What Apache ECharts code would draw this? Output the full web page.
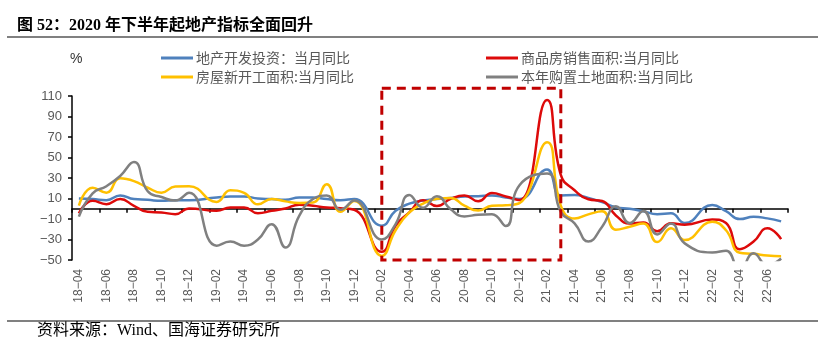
<!DOCTYPE html>
<html>
<head>
<meta charset="utf-8">
<script src="https://cdn.jsdelivr.net/npm/echarts@6/dist/echarts.min.js"></script>
<style>
html, body { margin: 0; padding: 0; background: #fff; }
#chart { width: 818px; height: 354px; }
</style>
</head>
<body>
<div id="chart"></div>
<script>
// months 18-04 .. 22-07, January is folded into Jan-Feb data so it stays empty
const months = [
    "18-04", "18-05", "18-06", "18-07", "18-08", "18-09", "18-10", "18-11", "18-12",
    "19-01", "19-02", "19-03", "19-04", "19-05", "19-06", "19-07", "19-08", "19-09", "19-10", "19-11", "19-12",
    "20-01", "20-02", "20-03", "20-04", "20-05", "20-06", "20-07", "20-08", "20-09", "20-10", "20-11", "20-12",
    "21-01", "21-02", "21-03", "21-04", "21-05", "21-06", "21-07", "21-08", "21-09", "21-10", "21-11", "21-12",
    "22-01", "22-02", "22-03", "22-04", "22-05", "22-06", "22-07"
];

const investment = [
    10, 9.4, 8.4, 13, 9.4, 8.7, 7.7, 8.4, 8.4,
    null, 11, 12, 12, 10, 9.4, 8.7, 11, 11, 9.4, 8.4, 9.4,
    null, -16.5, -2, 5, 8, 9.4, 10.5, 12, 12.3, 13, 11, 9.5,
    null, 38.3, 13, 13.3, 10.5, 6.5, 1.5, 0, -2.5, -5.4, -4.5, -13.9,
    null, 3.7, -2.4, -10.1, -7.8, -9.4, -12.3
];

const sales = [
    -4.5, 7.7, 4.5, 9.4, 2.9, -3, -3.6, -5.3, 0.3,
    null, -2, 1.2, 1.2, -4.3, -2, 0.3, 3.8, 2.9, 1.2, 0.6, -1,
    null, -42, -16.5, -3.6, 8.4, 2.6, 9.7, 13, 7.3, 15.3, 12, 8.5,
    null, 106, 33, 18, 9.2, 7.6, -6.5, -14.5, -13.5, -22, -14.2, -15.5,
    null, -10.5, -14, -39.5, -32, -19, -29.6
];

const newStarts = [
    3, 20.5, 15.7, 29.7, 27, 20.5, 15.7, 21.7, 22,
    null, 6.7, 18, 15.5, 4.3, 9.6, 7.2, 5.6, 6, 24, -3, 7.6,
    null, -46, -21, -3.6, 5, 9.7, 10.5, 3, -1.8, 3, 3.5, 5.5,
    null, 65, 3, -9.5, -5.5, -2.5, -20.5, -17.5, -14.5, -32.5, -19, -30.5,
    null, -12.8, -21, -43, -44, -45.6, -46.3
];

const landPurchase = [
    -7.7, 15, 22, 32, 45.5, 17, 11.5, 8, 15.5,
    null, -36, -32, -36, -30, -15, -37.7, -7, 9.5, 13, -1, 8,
    null, -30, -15, 13.5, 1, 12.3, -0.6, -7.5, -5.8, -5.4, -16.8, 23,
    null, 34.4, -3, -14.3, -32, -17.5, 2.4, -14, -2.2, -25, -14.3, -33.8,
    null, -42.6, -41, -60, -43.5, -55, -48.5
];

const seriesNames = [
    "地产开发投资：当月同比",
    "商品房销售面积:当月同比",
    "房屋新开工面积:当月同比",
    "本年购置土地面积:当月同比"
];
const seriesColors = ["#4F81BD", "#DD0A0A", "#FFC000", "#808080"];
const seriesData = [investment, sales, newStarts, landPurchase];

// highlighted span: 20-02 .. 21-03
const boxFrom = "20-02";
const boxTo = "21-03";
const boxTop = 117.5;
const boxBottom = -50;

const labelFont = "'Liberation Sans', Arial, sans-serif";
const cjkFont = "'Liberation Serif', 'Noto Sans CJK SC', serif";

function legendAt(name, left, top) {
    return {
        data: [name],
        left: left,
        top: top,
        padding: 0,
        icon: "rect",
        itemWidth: 32,
        itemHeight: 3,
        selectedMode: false,
        textStyle: { fontSize: 14, color: "#595959", fontFamily: "'Noto Sans CJK SC', sans-serif", padding: [0, 0, 0, -2] }
    };
}

const chart = echarts.init(document.getElementById("chart"));

const series = seriesNames.map((name, i) => ({
    name: name,
    type: "line",
    data: seriesData[i],
    xAxisIndex: 0,
    smooth: 0.5,
    connectNulls: true,
    symbol: "none",
    lineStyle: { width: 2.5, color: seriesColors[i] },
    itemStyle: { color: seriesColors[i] }
}));

chart.setOption({
    animation: false,
    backgroundColor: "#fff",
    grid: { left: 72, right: 30, top: 96, bottom: 94 },
    legend: [
        legendAt(seriesNames[0], 161, 51),
        legendAt(seriesNames[1], 486, 51),
        legendAt(seriesNames[2], 161, 70),
        legendAt(seriesNames[3], 486, 70)
    ],
    xAxis: [
        {
            type: "category",
            data: months,
            position: "bottom",
            boundaryGap: true,
            axisLine: { show: false, onZero: false },
            axisTick: { show: false },
            axisLabel: {
                interval: 1,
                rotate: 90,
                margin: 9,
                fontSize: 12,
                color: "#595959",
                fontFamily: labelFont,
                formatter: (v) => v.replace("-", "\u2212")
            }
        },
        {
            type: "category",
            data: months,
            position: "bottom",
            boundaryGap: true,
            axisLine: { show: true, onZero: true, lineStyle: { color: "#000", width: 1.5 } },
            axisTick: { show: true, interval: 1, length: 4, lineStyle: { color: "#000", width: 1.5 } },
            axisLabel: { show: false }
        }
    ],
    yAxis: {
        type: "value",
        min: -50,
        max: 110,
        interval: 20,
        splitLine: { show: false },
        axisLine: { show: true, lineStyle: { color: "#000", width: 1.5 } },
        axisTick: { show: true, length: 4, lineStyle: { color: "#000", width: 1.5 } },
        axisLabel: {
            fontSize: 13,
            color: "#595959",
            margin: 10,
            fontFamily: labelFont,
            formatter: (v) => String(v).replace("-", "\u2212")
        }
    },
    series: series
});

// dashed box and page furniture, placed through the axes
const topLeft = chart.convertToPixel({ gridIndex: 0 }, [months.indexOf(boxFrom), boxTop]);
const bottomRight = chart.convertToPixel({ gridIndex: 0 }, [months.indexOf(boxTo), boxBottom]);

chart.setOption({
    graphic: [
        {
            type: "rect",
            shape: {
                x: topLeft[0],
                y: topLeft[1],
                width: bottomRight[0] - topLeft[0],
                height: bottomRight[1] - topLeft[1]
            },
            style: { fill: null, stroke: "#C00000", lineWidth: 3, lineDash: [9, 6] },
            z: 10
        },
        {
            type: "text",
            left: 17,
            top: 18,
            style: {
                text: "图 52：2020 年下半年起地产指标全面回升",
                font: "bold 16px " + cjkFont,
                fill: "#000"
            }
        },
        {
            type: "line",
            shape: { x1: 7, y1: 37, x2: 818, y2: 37 },
            style: { stroke: "#808080", lineWidth: 2 }
        },
        {
            type: "text",
            left: 70,
            top: 52,
            style: { text: "%", font: "14px " + labelFont, fill: "#333" }
        },
        {
            type: "line",
            shape: { x1: 7, y1: 321, x2: 818, y2: 321 },
            style: { stroke: "#808080", lineWidth: 2 }
        },
        {
            type: "text",
            left: 37,
            top: 323,
            style: {
                text: "资料来源：Wind、国海证券研究所",
                font: "16px " + cjkFont,
                fill: "#000"
            }
        }
    ]
});
</script>
</body>
</html>
